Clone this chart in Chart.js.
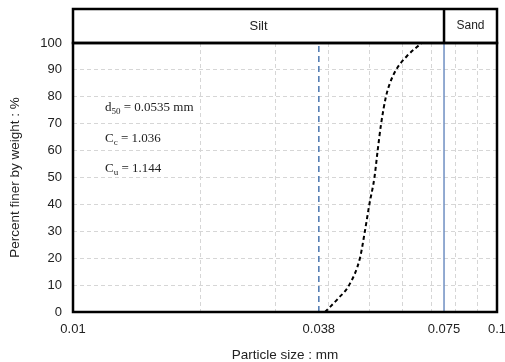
<!DOCTYPE html>
<html>
<head>
<meta charset="utf-8">
<script src="https://cdn.jsdelivr.net/npm/chart.js@4.4.1/dist/chart.umd.min.js"></script>
<style>
  html, body { margin: 0; padding: 0; background: #fff; }
  #wrap { width: 505px; height: 362px; }
</style>
</head>
<body>
<div id="wrap"><canvas id="gradationChart"></canvas></div>
<script>
// gradation curve: particle size (mm) vs percent finer by weight
const particleSize = [0.0393, 0.0422, 0.0448, 0.0475, 0.0488, 0.0500, 0.0514, 0.0523, 0.0533, 0.0547, 0.0559, 0.0578, 0.0612, 0.0664];
const percentFiner = [0, 5, 10, 20, 30, 40, 50, 60, 70, 80, 85, 90, 95, 100];

const xGridTicks = [0.01, 0.02, 0.03, 0.038, 0.04, 0.05, 0.06, 0.07, 0.075, 0.08, 0.09, 0.1];
const xLabelTicks = [0.01, 0.038, 0.075, 0.1];
const yTicks = [0, 10, 20, 30, 40, 50, 60, 70, 80, 90, 100];

const sieveSize = 0.038;      // dashed reference line
const siltSandLimit = 0.075;  // silt / sand boundary
const d50 = '0.0535', cc = '1.036', cu = '1.144';

const curve = particleSize.map((s, i) => ({ x: s, y: percentFiner[i] }));

const SANS = '"Liberation Sans", Arial, sans-serif';
const SERIF = '"Liberation Serif", "Times New Roman", serif';

const framePlugin = {
    id: 'framePlugin',
    afterDraw(chart) {
        const { ctx, chartArea: a, scales } = chart;
        const xDiv = scales.x.getPixelForValue(siltSandLimit);
        const headTop = 9;
        ctx.save();
        ctx.strokeStyle = '#000';
        ctx.lineWidth = 2.5;
        ctx.strokeRect(a.left, headTop, a.right - a.left, a.top - headTop);
        ctx.strokeRect(a.left, a.top, a.right - a.left, a.bottom - a.top);
        ctx.beginPath();
        ctx.moveTo(xDiv, headTop);
        ctx.lineTo(xDiv, a.top);
        ctx.stroke();

        ctx.fillStyle = '#222';
        ctx.font = '13px ' + SANS;
        ctx.textAlign = 'center';
        ctx.textBaseline = 'middle';
        const midY = (headTop + a.top) / 2;
        ctx.fillText('Silt', (a.left + xDiv) / 2, midY);
        ctx.font = '12px ' + SANS;
        ctx.fillText('Sand', (xDiv + a.right) / 2, midY);

        // coefficient notes
        const tx = a.left + 32;
        const rows = [['d', '50', ' = ' + d50 + ' mm'], ['C', 'c', ' = ' + cc], ['C', 'u', ' = ' + cu]];
        ctx.textAlign = 'left';
        ctx.textBaseline = 'alphabetic';
        rows.forEach((r, i) => {
            const by = a.top + 68 + i * 30.5;
            let x = tx;
            ctx.font = '13px ' + SERIF;
            ctx.fillText(r[0], x, by);
            x += ctx.measureText(r[0]).width;
            ctx.font = '9px ' + SERIF;
            ctx.fillText(r[1], x, by + 3);
            x += ctx.measureText(r[1]).width;
            ctx.font = '13px ' + SERIF;
            ctx.fillText(r[2], x, by);
        });
        ctx.restore();
    }
};

const ctx = document.getElementById('gradationChart').getContext('2d');
new Chart(ctx, {
    type: 'scatter',
    data: {
        datasets: [
            {
                data: curve,
                showLine: true,
                borderColor: '#000',
                borderWidth: 2,
                borderDash: [4, 3],
                pointRadius: 0,
                cubicInterpolationMode: 'monotone'
            },
            {
                data: [{ x: sieveSize, y: 0 }, { x: sieveSize, y: 100 }],
                showLine: true,
                borderColor: '#4a76b0',
                borderWidth: 1.5,
                borderDash: [6, 4],
                pointRadius: 0
            },
            {
                data: [{ x: siltSandLimit, y: 0 }, { x: siltSandLimit, y: 100 }],
                showLine: true,
                borderColor: '#6f8fc2',
                borderWidth: 1.5,
                pointRadius: 0
            }
        ]
    },
    options: {
        responsive: true,
        maintainAspectRatio: false,
        animation: false,
        layout: { padding: { top: 43, left: 0, right: 8, bottom: 0 } },
        plugins: {
            legend: { display: false },
            tooltip: { enabled: false }
        },
        scales: {
            x: {
                type: 'logarithmic',
                min: 0.01,
                max: 0.1,
                afterBuildTicks: (scale) => {
                    scale.ticks = xGridTicks.map(v => ({ value: v }));
                },
                afterFit: (scale) => {
                    scale.height = 50;
                    scale.paddingLeft = 0;
                    scale.paddingRight = 0;
                },
                ticks: {
                    autoSkip: false,
                    maxRotation: 0,
                    padding: 10,
                    color: '#222',
                    font: { family: SANS, size: 13 },
                    callback: (v) => xLabelTicks.includes(v) ? String(v) : ''
                },
                grid: {
                    drawTicks: false,
                    color: (c) => (c.tick && (c.tick.value === sieveSize || c.tick.value === siltSandLimit)) ? 'rgba(0,0,0,0)' : '#d6d6d6',
                    lineWidth: 1
                },
                border: { display: false, dash: [4, 3] },
                title: {
                    display: true,
                    text: 'Particle size : mm',
                    color: '#222',
                    font: { family: SANS, size: 13.5 },
                    padding: { top: 10, bottom: -1.5 }
                }
            },
            y: {
                min: 0,
                max: 100,
                afterBuildTicks: (scale) => {
                    scale.ticks = yTicks.map(v => ({ value: v }));
                },
                afterFit: (scale) => { scale.width = 73; },
                ticks: {
                    padding: 11,
                    color: '#222',
                    font: { family: SANS, size: 13 }
                },
                grid: {
                    drawTicks: false,
                    color: '#d6d6d6',
                    lineWidth: 1
                },
                border: { display: false, dash: [4, 3] },
                title: {
                    display: true,
                    text: 'Percent finer by weight : %',
                    color: '#222',
                    font: { family: SANS, size: 13.5 },
                    padding: { top: 7, bottom: 0 }
                }
            }
        }
    },
    plugins: [framePlugin]
});
</script>
</body>
</html>
